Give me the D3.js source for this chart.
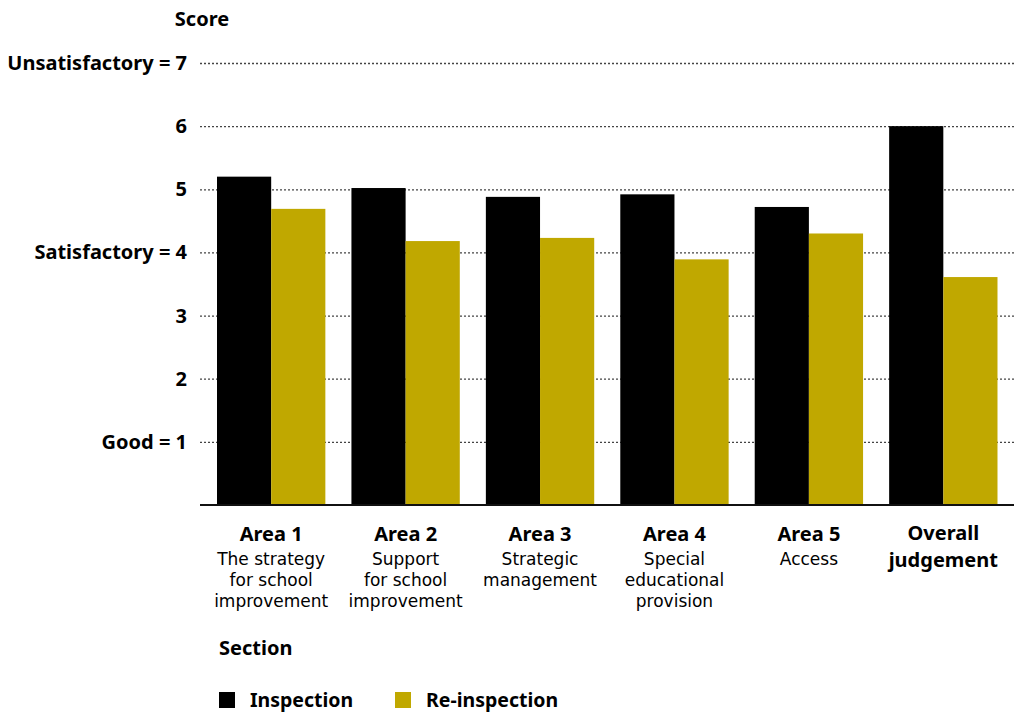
<!DOCTYPE html>
<html>
<head>
<meta charset="utf-8">
<script src="https://cdn.jsdelivr.net/npm/d3@7"></script>
<style>
  html, body { margin: 0; padding: 0; background: #fff; }
  svg { display: block; font-family: "Noto Sans", "Open Sans", sans-serif; }
  .note { font-family: "DejaVu Sans", "Noto Sans", sans-serif; }
</style>
</head>
<body>
<svg id="chart" width="1020" height="722"></svg>
<script>
// Section headings and their description lines
const categories = ["Area 1", "Area 2", "Area 3", "Area 4", "Area 5", "Overall"];
const categoryTitles = [["Area 1"], ["Area 2"], ["Area 3"], ["Area 4"], ["Area 5"], ["Overall", "judgement"]];
const categoryNotes = [
  ["The strategy", "for school", "improvement"],
  ["Support", "for school", "improvement"],
  ["Strategic", "management"],
  ["Special", "educational", "provision"],
  ["Access"],
  []
];

// Mean scores (1 = good, 7 = unsatisfactory)
const seriesNames = ["Inspection", "Re-inspection"];
const inspection = [5.20, 5.02, 4.88, 4.92, 4.72, 6.00];
const reinspection = [4.69, 4.18, 4.23, 3.89, 4.30, 3.61];

const tickValues = [1, 2, 3, 4, 5, 6, 7];
const tickLabels = ["Good = 1", "2", "3", "Satisfactory = 4", "5", "6", "Unsatisfactory = 7"];

const colors = ["#000000", "#c0a800"];

const svg = d3.select("#chart");
const plotLeft = 200, plotRight = 1014, plotTop = 63, plotBottom = 505;

const x = d3.scaleBand()
  .domain(categories)
  .range([plotLeft, 1014.5])
  .paddingInner(0.194)
  .paddingOuter(0.1265);

const xs = d3.scaleBand()
  .domain(seriesNames)
  .range([0, x.bandwidth()]);

const y = d3.scaleLinear().domain([0, 7]).range([plotBottom, plotTop]);

// Dotted gridlines
svg.append("g")
  .selectAll("line")
  .data(tickValues)
  .join("line")
  .attr("x1", plotLeft)
  .attr("x2", plotRight)
  .attr("y1", d => y(d) + 0.5)
  .attr("y2", d => y(d) + 0.5)
  .attr("stroke", "#444")
  .attr("stroke-width", 1.3)
  .attr("stroke-dasharray", "2,2");

// Y tick labels
svg.append("g")
  .selectAll("text")
  .data(tickValues)
  .join("text")
  .attr("x", 187)
  .attr("y", d => y(d))
  .attr("dy", "0.35em")
  .attr("text-anchor", "end")
  .attr("font-weight", "bold")
  .attr("font-size", 20)
  .text((d, i) => tickLabels[i]);

svg.append("text")
  .attr("x", 202)
  .attr("y", 26)
  .attr("text-anchor", "middle")
  .attr("font-weight", "bold")
  .attr("font-size", 20)
  .text("Score");

// Bars
const rows = categories.map((c, i) => ({ c, vals: [inspection[i], reinspection[i]] }));
const groups = svg.append("g")
  .selectAll("g")
  .data(rows)
  .join("g")
  .attr("transform", d => `translate(${x(d.c)},0)`);

groups.selectAll("rect")
  .data(d => d.vals.map((v, k) => ({ v, k })))
  .join("rect")
  .attr("x", d => xs(seriesNames[d.k]))
  .attr("width", xs.bandwidth())
  .attr("y", d => y(d.v))
  .attr("height", d => y(0) - y(d.v))
  .attr("fill", d => colors[d.k]);

// Baseline
svg.append("line")
  .attr("x1", plotLeft)
  .attr("x2", plotRight)
  .attr("y1", plotBottom)
  .attr("y2", plotBottom)
  .attr("stroke", "#111")
  .attr("stroke-width", 2.2);

// Category labels: bold heading lines, then the description lines
const labels = svg.append("g")
  .selectAll("g")
  .data(categories)
  .join("g")
  .attr("transform", d => `translate(${x(d) + x.bandwidth() / 2},0)`);

labels.each(function (d, i) {
  const g = d3.select(this);
  const titles = categoryTitles[i];
  const titleStep = 27.3;
  const titleStart = titles.length > 1 ? 539.5 : 541;
  titles.forEach((line, j) => {
    g.append("text")
      .attr("y", titleStart + j * titleStep)
      .attr("text-anchor", "middle")
      .attr("font-weight", "bold")
      .attr("font-size", 20)
      .text(line);
  });
  categoryNotes[i].forEach((line, j) => {
    g.append("text")
      .attr("class", "note")
      .attr("y", 565 + j * 21)
      .attr("text-anchor", "middle")
      .attr("font-size", 17)
      .text(line);
  });
});

svg.append("text")
  .attr("x", 219)
  .attr("y", 655)
  .attr("font-weight", "bold")
  .attr("font-size", 20)
  .text("Section");

// Legend
const legendX = [219, 395];
const legend = svg.append("g")
  .selectAll("g")
  .data(seriesNames)
  .join("g")
  .attr("transform", (d, i) => `translate(${legendX[i]},692)`);

legend.append("rect")
  .attr("width", 16)
  .attr("height", 16)
  .attr("fill", (d, i) => colors[i]);

legend.append("text")
  .attr("x", 31)
  .attr("y", 15)
  .attr("font-weight", "bold")
  .attr("font-size", 19.5)
  .text(d => d);
</script>
</body>
</html>
